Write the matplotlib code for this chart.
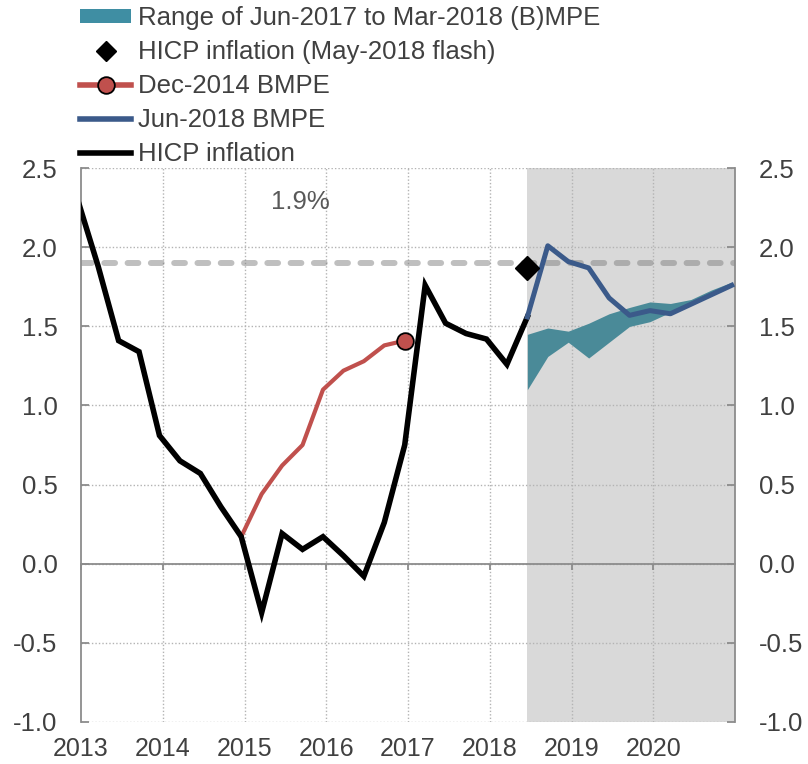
import matplotlib
matplotlib.use("Agg")
import matplotlib.pyplot as plt
from matplotlib.patches import Patch
from matplotlib.lines import Line2D

plt.rcParams['font.family'] = ['Liberation Sans', 'DejaVu Sans']
plt.rcParams['axes.unicode_minus'] = False

# ---- data (quarterly; time = decimal year of quarter) ----
hicp_quarters = ["2012Q4",
                 "2013Q1", "2013Q2", "2013Q3", "2013Q4",
                 "2014Q1", "2014Q2", "2014Q3", "2014Q4",
                 "2015Q1", "2015Q2", "2015Q3", "2015Q4",
                 "2016Q1", "2016Q2", "2016Q3", "2016Q4",
                 "2017Q1", "2017Q2", "2017Q3", "2017Q4",
                 "2018Q1", "2018Q2"]
hicp_values = [2.30,
               1.88, 1.41, 1.34, 0.81,
               0.65, 0.57, 0.36, 0.17,
               -0.31, 0.19, 0.09, 0.17,
               0.05, -0.08, 0.26, 0.75,
               1.76, 1.52, 1.455, 1.42,
               1.26, 1.56]

dec14_quarters = ["2014Q4",
                  "2015Q1", "2015Q2", "2015Q3", "2015Q4",
                  "2016Q1", "2016Q2", "2016Q3", "2016Q4"]
dec14_values = [0.17, 0.44, 0.62, 0.75, 1.10, 1.22, 1.28, 1.38, 1.41]

jun18_quarters = ["2018Q2", "2018Q3", "2018Q4",
                  "2019Q1", "2019Q2", "2019Q3", "2019Q4",
                  "2020Q1", "2020Q2", "2020Q3", "2020Q4"]
jun18_values = [1.56, 2.01, 1.91, 1.87, 1.68, 1.57, 1.60, 1.58, 1.64, 1.70, 1.76]

range_quarters = jun18_quarters
range_upper = [1.45, 1.49, 1.47, 1.52, 1.58, 1.62, 1.655, 1.645, 1.67, 1.73, 1.78]
range_lower = [1.10, 1.31, 1.40, 1.30, 1.40, 1.50, 1.53, 1.59, 1.645, 1.71, 1.755]

flash_quarter = "2018Q2"
flash_value = 1.87

target_value = 1.9
target_label = "1.9%"
projection_start = "2018Q2"

year_ticks = [2013, 2014, 2015, 2016, 2017, 2018, 2019, 2020]
y_ticks = [-1.0, -0.5, 0.0, 0.5, 1.0, 1.5, 2.0, 2.5]


def qtime(q):
    y, k = q.split("Q")
    return int(y) + (int(k) - 1) * 0.25 + 0.21


def qt(lst):
    return [qtime(q) for q in lst]


# ---- styling ----
TXT = '#404040'
GRAY = '#8c8c8c'
TEAL = '#4a8a98'
BLUE = '#3b5a8a'
RED = '#c0504d'
FS = 18.5

fig = plt.figure(figsize=(8.08, 7.64), dpi=100)
ax = fig.add_axes([81 / 808, 1 - 721.7 / 764, (735 - 81) / 808, (721.7 - 168.3) / 764])

ax.set_xlim(2013, 2021)
ax.set_ylim(-1.0, 2.5)

# projection shading
ax.axvspan(qtime(projection_start), 2021, color='#d9d9d9', lw=0, zorder=0)

# grid
for yv in y_ticks:
    ax.axhline(yv, color='#b3b3b3', lw=1, ls=(0, (1, 1.5)), zorder=1)
for xv in year_ticks[1:]:
    ax.axvline(xv, color='#b3b3b3', lw=1, ls=(0, (1, 1.5)), zorder=1)

# target line
ax.axhline(target_value, color='#808080', alpha=0.5, lw=4.3, ls=(0, (1.8, 2.1)),
           solid_capstyle='round', dash_capstyle='round', zorder=2)
ax.text(2015.68, 2.29, target_label, ha='center', va='center', fontsize=18.5, color='#595959')

# range
ax.fill_between(qt(range_quarters), range_lower, range_upper, color=TEAL, lw=0, zorder=3)

# lines
ax.plot(qt(hicp_quarters), hicp_values, color='black', lw=4.0, zorder=5, solid_joinstyle='miter')
ax.plot(qt(dec14_quarters), dec14_values, color=RED, lw=3.0, zorder=4)
ax.plot(qt(dec14_quarters)[-1:], dec14_values[-1:], 'o', ms=12, mfc=RED, mec='black', mew=1.3, zorder=6)
ax.plot(qt(jun18_quarters), jun18_values, color=BLUE, lw=3.6, zorder=5)
ax.plot([qtime(flash_quarter)], [flash_value], 'D', ms=12, color='black', zorder=6)

# spines
ax.spines['top'].set_visible(False)
for s in ['left', 'right']:
    ax.spines[s].set_color(GRAY)
    ax.spines[s].set_linewidth(1.3)
ax.spines['bottom'].set_position(('data', 0))
ax.spines['bottom'].set_color(GRAY)
ax.spines['bottom'].set_linewidth(1.3)

ax.set_yticks(y_ticks)
ax.set_yticklabels([f"{v:.1f}" for v in y_ticks])
ax.tick_params(axis='y', left=True, right=True, labelleft=True, labelright=True,
               direction='in', length=6, width=1.3, color=GRAY, labelsize=FS,
               labelcolor=TXT, pad=17)
ax.set_xticks(year_ticks)
ax.tick_params(axis='x', direction='out', length=4, width=1.3, color=GRAY,
               labelbottom=False)

sec = ax.secondary_xaxis(0.0)
sec.set_xticks(year_ticks)
sec.set_xticklabels([str(y) for y in year_ticks])
sec.tick_params(length=0, labelsize=18, labelcolor=TXT, pad=11)
sec.spines['bottom'].set_visible(False)

# legend
handles = [
    Patch(facecolor='#3f8ea3', edgecolor='none'),
    Line2D([], [], ls='none', marker='D', ms=10, color='black'),
    Line2D([], [], color=RED, lw=4, marker='o', ms=12, mfc=RED, mec='black', mew=1.3),
    Line2D([], [], color=BLUE, lw=4),
    Line2D([], [], color='black', lw=4),
]
labels = ["Range of Jun-2017 to Mar-2018 (B)MPE",
          "HICP inflation (May-2018 flash)",
          "Dec-2014 BMPE",
          "Jun-2018 BMPE",
          "HICP inflation"]
leg = fig.legend(handles, labels, loc='upper left', bbox_to_anchor=(80 / 808, 1 - 6 / 764),
                 frameon=False, fontsize=FS,
                 handlelength=2.0, handleheight=0.5, handletextpad=0.27,
                 labelspacing=0.39, borderpad=0, borderaxespad=0)
for t in leg.get_texts():
    t.set_color(TXT)

fig.savefig("out.png", dpi=100)
